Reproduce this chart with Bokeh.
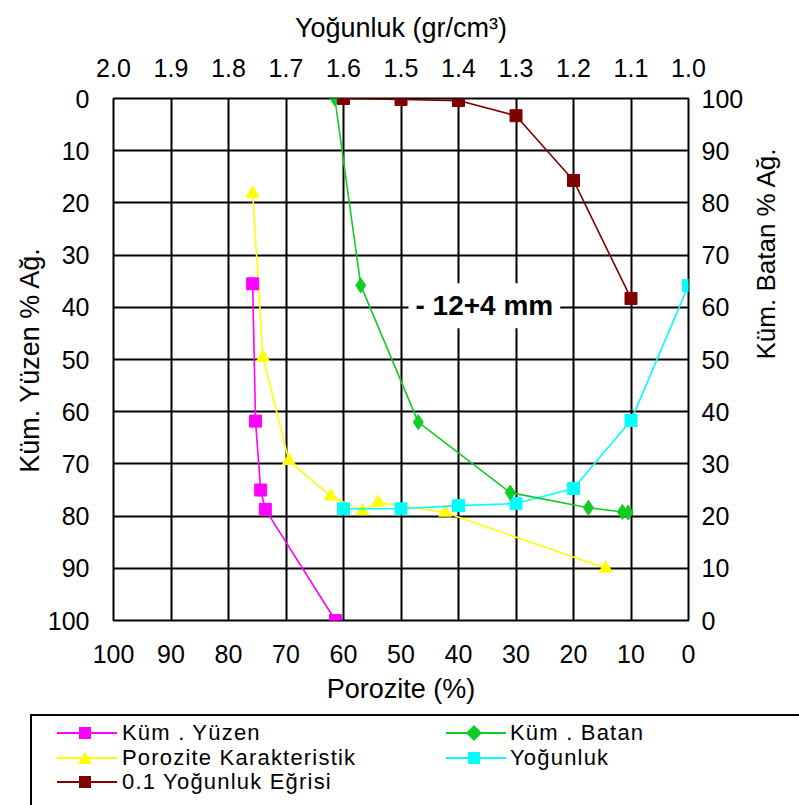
import math
from bokeh.plotting import figure
from bokeh.layouts import column
from bokeh.models import (Range1d, LinearAxis, FixedTicker, PrintfTickFormatter,
                          Label, Div)
from bokeh.embed import file_html
from bokeh.resources import INLINE

# ---------------- data ----------------
porozite_ticks = [0, 10, 20, 30, 40, 50, 60, 70, 80, 90, 100]
yuzde_ticks = [0, 10, 20, 30, 40, 50, 60, 70, 80, 90, 100]
yogunluk_ticks = [1.0, 1.1, 1.2, 1.3, 1.4, 1.5, 1.6, 1.7, 1.8, 1.9, 2.0]

# Küm. Yüzen (left axis, vs porosity)
yuzen_porozite = [75.8, 75.3, 74.4, 73.6, 61.4]
yuzen_pct = [35.5, 61.8, 75.0, 78.7, 100.0]

# Küm. Batan (right axis, vs porosity)
batan_porozite = [61.5, 57.0, 47.0, 31.0, 17.4, 11.5, 10.5]
batan_pct = [100.0, 64.2, 38.0, 24.5, 21.6, 20.8, 20.7]

# Porozite Karakteristik (left axis, vs porosity)
karakteristik_porozite = [75.8, 74.0, 69.5, 62.2, 56.7, 54.0, 42.3, 14.4]
karakteristik_pct = [18.2, 49.6, 69.4, 76.2, 79.0, 77.4, 79.3, 90.0]

# Yoğunluk (left axis, vs density)
yogunluk_x = [1.6, 1.5, 1.4, 1.3, 1.2, 1.1, 1.0]
yogunluk_pct = [78.6, 78.6, 78.0, 77.6, 74.7, 61.7, 35.8]

# 0.1 Yoğunluk Eğrisi (left axis, vs density)
egri_x = [1.6, 1.5, 1.4, 1.3, 1.2, 1.1]
egri_pct = [0.0, 0.2, 0.4, 3.3, 15.7, 38.3]

series_labels = ["Küm . Yüzen", "Porozite Karakteristik", "0.1 Yoğunluk Eğrisi",
                 "Küm . Batan", "Yoğunluk"]
series_colors = ["#FF00FF", "#FFFF00", "#800000", "#11CC22", "#00FFFF"]
series_markers = ["square", "triangle", "square", "diamond", "square"]

FONT = "Liberation Sans"

fig = figure(width=799, height=710, output_backend="svg", toolbar_location=None,
             x_range=Range1d(100, 0), y_range=Range1d(100, 0),
             min_border_left=113, min_border_right=111, min_border_top=98,
             min_border_bottom=90, background_fill_color="white",
             border_fill_color="white")
fig.extra_x_ranges = {"dens": Range1d(2.0, 1.0)}
fig.extra_y_ranges = {"batan": Range1d(0, 100)}

fig.outline_line_color = "black"
fig.outline_line_width = 2

for g in (fig.xgrid, fig.ygrid):
    g.grid_line_color = "black"
    g.grid_line_width = 2
    g.grid_line_alpha = 1
fig.xgrid.ticker = FixedTicker(ticks=porozite_ticks)
fig.ygrid.ticker = FixedTicker(ticks=yuzde_ticks)

top_axis = LinearAxis(x_range_name="dens", axis_label="Yoğunluk (gr/cm³)")
right_axis = LinearAxis(y_range_name="batan", axis_label="Küm. Batan % Ağ.")
fig.add_layout(top_axis, "above")
fig.add_layout(right_axis, "right")

bottom_axis = fig.below[0]
left_axis = fig.left[0]
bottom_axis.axis_label = "Porozite (%)"
left_axis.axis_label = "Küm. Yüzen % Ağ."

bottom_axis.ticker = FixedTicker(ticks=porozite_ticks)
left_axis.ticker = FixedTicker(ticks=yuzde_ticks)
top_axis.ticker = FixedTicker(ticks=yogunluk_ticks)
top_axis.formatter = PrintfTickFormatter(format="%.1f")
right_axis.ticker = FixedTicker(ticks=yuzde_ticks)

for ax in (bottom_axis, left_axis, top_axis, right_axis):
    ax.axis_line_color = None
    ax.major_tick_line_color = None
    ax.minor_tick_line_color = None
    ax.major_tick_out = 0
    ax.major_tick_in = 0
    ax.minor_tick_out = 0
    ax.minor_tick_in = 0
    ax.major_label_text_font = FONT
    ax.major_label_text_font_size = "25px"
    ax.major_label_text_color = "black"
    ax.axis_label_text_font = FONT
    ax.axis_label_text_font_size = "27px"
    ax.axis_label_text_font_style = "normal"
    ax.axis_label_text_color = "black"

right_axis.axis_label_text_font_size = "26px"

left_axis.major_label_standoff = 24
left_axis.axis_label_standoff = 0
bottom_axis.major_label_standoff = 24
bottom_axis.axis_label_standoff = 8
top_axis.major_label_standoff = 22
top_axis.axis_label_standoff = 13
right_axis.major_label_standoff = 13
right_axis.axis_label_standoff = 20
try:
    right_axis.axis_label_orientation = math.pi / 2
except Exception:
    pass

# ---------------- series ----------------
def series(x, y, color, marker, size, xr="default", yr="default"):
    fig.line(x, y, line_color=color, line_width=1.6, x_range_name=xr, y_range_name=yr)
    fig.scatter(x, y, marker=marker, size=size, fill_color=color, line_color=color,
                x_range_name=xr, y_range_name=yr)

series(karakteristik_porozite, karakteristik_pct, series_colors[1], "triangle", 13)
series(yuzen_porozite, yuzen_pct, series_colors[0], "square", 12)
series(yogunluk_x, yogunluk_pct, series_colors[4], "square", 12, xr="dens")
series(batan_porozite, batan_pct, series_colors[3], "diamond", 15, yr="batan")
series(egri_x, egri_pct, series_colors[2], "square", 12, xr="dens")

fig.add_layout(Label(x=35.5, y=39.7, text="- 12+4 mm", text_font=FONT,
                     text_font_size="28px", text_font_style="bold",
                     text_color="black",
                     text_align="center", text_baseline="middle",
                     background_fill_color="white", padding=7))

# ---------------- legend box (HTML) ----------------
def sample_svg(color, marker):
    shape = {
        "square": f'<rect x="22" y="5" width="12" height="12" fill="{color}"/>',
        "triangle": f'<polygon points="28,5 35,17 21,17" fill="{color}"/>',
        "diamond": f'<polygon points="28,3 36,11 28,19 20,11" fill="{color}"/>',
    }[marker]
    return (f'<svg width="60" height="22" style="position:absolute;left:0;top:0">'
            f'<line x1="0" y1="11" x2="60" y2="11" stroke="{color}" stroke-width="2"/>'
            f'{shape}</svg>')

col_x = [(57, 122), (57, 122), (57, 122), (446, 510), (446, 510)]
row_y = [23, 47.5, 72, 23, 47.5]
entries = []
for lab, colr, mk, (gx, tx), ry in zip(series_labels, series_colors, series_markers, col_x, row_y):
    entries.append(
        f'<div style="position:absolute;left:{gx}px;top:{ry - 11}px;width:60px;height:22px">'
        f'{sample_svg(colr, mk)}</div>'
        f'<div style="position:absolute;left:{tx}px;top:{ry - 12}px;height:24px;'
        f'line-height:24px;font-size:22px;letter-spacing:1.2px;white-space:nowrap;color:black">{lab}</div>'
    )

html = (f'<div style="position:relative;width:799px;height:95px;overflow:hidden;'
        f'font-family:\'{FONT}\';background:white">'
        f'<div style="position:absolute;left:30px;top:4px;width:820px;height:140px;'
        f'border:2px solid black;box-sizing:border-box"></div>'
        + "".join(entries) + '</div>')

leg = Div(text=html, width=799, height=95, margin=0)

p = column(fig, leg, spacing=0)

open("out.html", "w").write(file_html(p, INLINE))
